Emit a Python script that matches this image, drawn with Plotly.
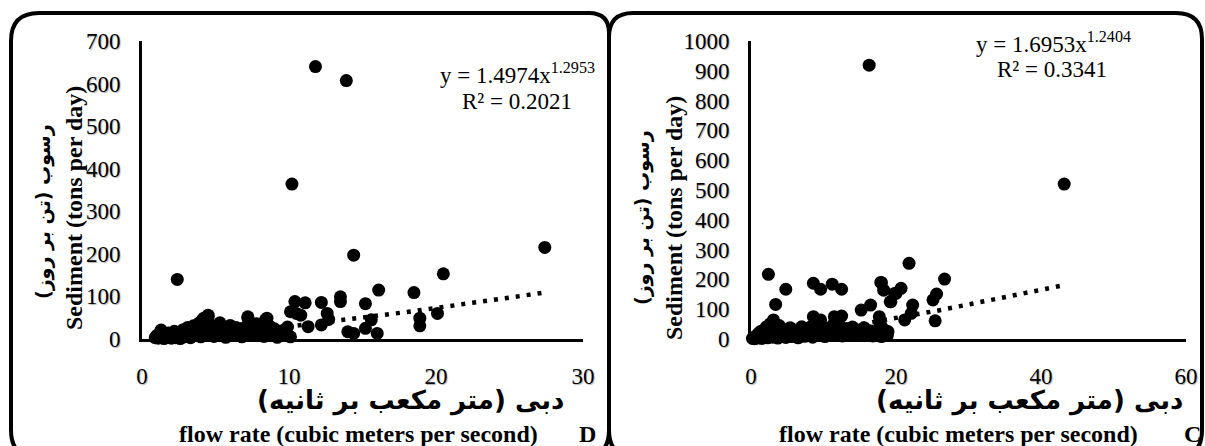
import numpy as np
import plotly.graph_objects as go

W, H = 1205, 446

# ---- Panel D: discharge vs. sediment load ----
d_flow = [0.9, 1.0, 1.1, 1.2, 1.3, 1.4, 1.5, 1.6, 1.7, 1.8, 1.9, 2.0, 2.1, 2.2, 2.3, 2.4,
          2.5, 2.6, 2.7, 2.8, 2.9, 3.0, 3.1, 3.2, 3.3, 3.4, 3.5, 3.6, 3.7, 3.8, 3.9, 4.0,
          4.1, 4.2, 4.3, 4.4, 4.5, 4.6, 4.7, 4.8, 4.9, 5.0, 5.2, 5.3, 5.4, 5.6, 5.7, 5.8,
          6.0, 6.1, 6.2, 6.4, 6.5, 6.7, 6.8, 7.0, 7.1, 7.2, 7.4, 7.6, 7.8, 7.9, 8.1, 8.3,
          8.4, 8.5, 8.7, 8.9, 9.0, 9.2, 9.4, 9.6, 9.8, 9.9, 10.1, 4.2, 4.5, 7.2, 8.5,
          2.4, 10.1, 10.2, 10.4, 10.5, 10.8, 11.1, 11.3, 11.8, 12.2, 12.2, 12.6, 12.7,
          13.5, 13.5, 13.9, 14.0, 14.4, 14.4, 15.2, 15.2, 15.6, 16.0, 16.1, 18.5,
          18.9, 18.9, 20.1, 20.5, 27.4]
d_sed = [3, 8, 2, 12, 21, 5, 1, 10, 4, 14, 6, 2, 9, 18, 3, 7,
         12, 1, 15, 22, 5, 9, 27, 14, 3, 19, 31, 8, 24, 12, 38, 5,
         44, 17, 28, 9, 52, 35, 14, 22, 6, 30, 18, 38, 10, 26, 4, 15,
         32, 8, 20, 27, 12, 24, 5, 18, 30, 50, 10, 22, 36, 14, 28, 6,
         45, 18, 30, 10, 24, 4, 16, 20, 8, 28, 5, 49, 56, 52, 49,
         140, 64, 364, 88, 60, 56, 85, 29, 640, 86, 33, 60, 46,
         99, 88, 607, 17, 197, 13, 83, 25, 45, 13, 115, 109,
         49, 31, 60, 153, 215]
d_coef, d_exp, d_r2 = 1.4974, 1.2953, 0.2021

# ---- Panel C: discharge vs. sediment load ----
c_flow = [0.2, 0.4, 0.5, 0.7, 0.9, 1.0, 1.2, 1.3, 1.5, 1.6, 1.8, 2.0, 2.1, 2.3, 2.5, 2.6,
          2.8, 3.0, 3.1, 3.3, 3.5, 3.7, 3.9, 4.0, 4.2, 4.4, 4.6, 4.8, 5.0, 5.2, 5.4, 5.6,
          5.8, 6.0, 6.3, 6.5, 6.7, 6.9, 7.2, 7.4, 7.7, 8.0, 8.2, 8.5, 8.8, 9.0, 9.3, 9.6,
          9.9, 10.2, 10.5, 10.8, 11.1, 11.4, 11.7, 12.0, 12.3, 12.6, 12.9, 13.2, 13.6,
          14.0, 14.4, 14.8, 15.2, 15.6, 16.0, 16.4, 16.8, 17.2, 17.6, 18.0, 18.4, 18.8,
          2.4, 4.8, 8.6, 9.6, 11.2, 12.5, 3.4, 3.1, 8.6, 9.6, 11.5, 12.5, 7.0,
          16.3, 18.0, 18.3, 17.7, 18.0, 18.9, 19.2, 15.2, 16.5, 17.9, 18.4, 17.8,
          19.3, 19.8, 20.7, 20.0, 21.8, 21.2, 22.1, 22.3, 25.1, 25.4, 25.6, 26.7, 43.2]
c_sed = [2, 5, 1, 10, 3, 18, 6, 25, 2, 12, 30, 8, 40, 4, 15, 50,
         22, 6, 35, 12, 28, 3, 45, 18, 9, 32, 20, 5, 26, 14, 38, 8,
         22, 30, 12, 4, 28, 18, 35, 9, 22, 14, 40, 6, 26, 32, 12, 45,
         20, 8, 36, 25, 14, 50, 30, 18, 42, 10, 28, 35, 20,
         40, 12, 30, 22, 38, 15, 28, 10, 20, 32, 8, 18, 12,
         217, 167, 187, 167, 184, 167, 116, 64, 75, 64, 75, 77, 41,
         919, 189, 164, 75, 41, 25, 125, 97, 114, 190, 30, 50,
         125, 153, 170, 153, 254, 64, 86, 114, 131, 61, 151, 201, 520]
c_coef, c_exp, c_r2 = 1.6953, 1.2404, 0.3341

d_xticks = [0, 10, 20, 30]
d_yticks = list(range(0, 701, 100))
c_xticks = [0, 20, 40, 60]
c_yticks = list(range(0, 1001, 100))

SERIF = "Liberation Serif"
PERSIAN = "DejaVu Sans"


def px(x):
    return x / W


def py(y):
    return 1 - y / H


def power_fit(flow, a, b):
    xs = np.linspace(min(flow), max(flow), 120)
    return xs, a * xs ** b


fig = go.Figure()

for flow, sed, a, b, xa, ya in [
    (d_flow, d_sed, d_coef, d_exp, "x", "y"),
    (c_flow, c_sed, c_coef, c_exp, "x2", "y2"),
]:
    fig.add_trace(go.Scatter(
        x=flow, y=sed, mode="markers", xaxis=xa, yaxis=ya,
        marker=dict(color="black", size=13, line=dict(width=0)),
        cliponaxis=False, showlegend=False, hoverinfo="skip"))
    tx, ty = power_fit(flow, a, b)
    fig.add_trace(go.Scatter(
        x=tx, y=ty, mode="lines", xaxis=xa, yaxis=ya,
        line=dict(color="black", width=4.5, dash="4px,7px"),
        showlegend=False, hoverinfo="skip"))

y_dom = [py(339), py(41)]
tickfont = dict(family=SERIF, size=23, color="black",
                shadow="1px 1px 1px rgba(0,0,0,0.3)")
axis_common = dict(showgrid=False, zeroline=False, showline=True, linecolor="black",
                   linewidth=3, ticks="", tickfont=tickfont, ticklabelstandoff=14,
                   fixedrange=True)

fig.update_layout(
    width=W, height=H,
    margin=dict(l=0, r=0, t=0, b=0, autoexpand=False),
    paper_bgcolor="white", plot_bgcolor="white",
    font=dict(family=SERIF, size=22, color="black"),
    xaxis=dict(domain=[px(142), px(583)], range=[0, 30], tickvals=d_xticks,
               anchor="y", **axis_common),
    yaxis=dict(domain=y_dom, range=[0, 700], tickvals=d_yticks,
               anchor="x", **axis_common),
    xaxis2=dict(domain=[px(751), px(1186)], range=[0, 60], tickvals=c_xticks,
                anchor="y2", **axis_common),
    yaxis2=dict(domain=y_dom, range=[0, 1000], tickvals=c_yticks,
                anchor="x2", **axis_common),
)


def rounded_panel(x0, y0, x1, y1, r_tl, r_tr, r_br, r_bl):
    p = [f"M {px(x0)} {py(y0 + r_tl)}",
         f"Q {px(x0)} {py(y0)} {px(x0 + r_tl)} {py(y0)}",
         f"L {px(x1 - r_tr)} {py(y0)}",
         f"Q {px(x1)} {py(y0)} {px(x1)} {py(y0 + r_tr)}",
         f"L {px(x1)} {py(y1 - r_br)}",
         f"Q {px(x1)} {py(y1)} {px(x1 - r_br)} {py(y1)}",
         f"L {px(x0 + r_bl)} {py(y1)}",
         f"Q {px(x0)} {py(y1)} {px(x0)} {py(y1 - r_bl)}",
         "Z"]
    return " ".join(p)


shapes = [
    dict(type="path", xref="paper", yref="paper",
         path=rounded_panel(11, 13, 609, 458, 28, 20, 28, 28),
         line=dict(color="black", width=4), fillcolor="rgba(0,0,0,0)"),
    dict(type="path", xref="paper", yref="paper",
         path=rounded_panel(609, 13, 1202, 458, 24, 26, 28, 28),
         line=dict(color="black", width=4), fillcolor="rgba(0,0,0,0)"),
]
fig.update_layout(shapes=shapes)

ann = []


def text(x, y, s, size=22, family=SERIF, bold=False, angle=0, xanchor="center"):
    ann.append(dict(x=px(x), y=py(y), xref="paper", yref="paper", text=(f"<b>{s}</b>" if bold else s),
                    showarrow=False, textangle=angle, xanchor=xanchor, yanchor="middle",
                    font=dict(family=family, size=size, color="black")))


# fit equations
text(517, 73, f"y = {d_coef:.4f}x<sup>{d_exp:.4f}</sup>", size=23)
text(517, 101, f"R² = {d_r2:.4f}", size=23)
text(1053, 42, f"y = {c_coef:.4f}x<sup>{c_exp:.4f}</sup>", size=23)
text(1052, 69, f"R² = {c_r2:.4f}", size=23)

# axis titles (right-to-left runs are anchored by their right side)
for pers_anchor, cx_eng, ylab_p, ylab_e, yc_p, yc_e, letter_x, letter in [
    (566, 358, 43, 74, 212, 208, 587, "D"),
    (1185, 959, 642, 674, 218, 218, 1192, "C"),
]:
    text(pers_anchor, 400, "دبی (متر مکعب بر ثانیه)", size=26, family=PERSIAN, bold=True,
         xanchor="right")
    text(cx_eng, 434, "flow rate (cubic meters per second)", size=24, bold=True)
    text(letter_x, 434, letter, size=24, bold=True)
    text(ylab_p, yc_p, "رسوب (تن بر روز)", size=19, family=PERSIAN, bold=True, angle=-90)
    text(ylab_e, yc_e, "Sediment (tons per day)", size=24, bold=True, angle=-90)

fig.update_layout(annotations=ann)

fig.write_html("out.html")
